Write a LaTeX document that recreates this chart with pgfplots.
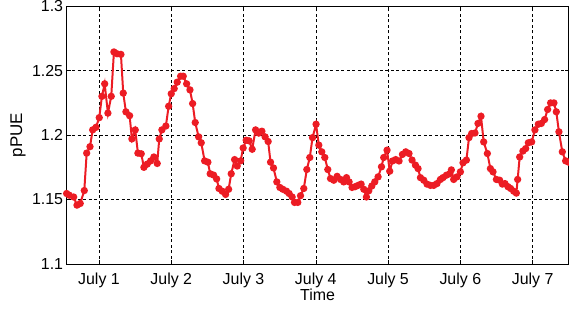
\documentclass[border=0pt]{standalone}
\usepackage{pgfplots}
\pgfplotsset{compat=1.18}
\usepackage{fontspec}
\setmainfont{Liberation Sans}
\definecolor{pred}{RGB}{236,28,36}
\pgfplotstableread{
x y
0.553 1.1547
0.589 1.1534
0.650 1.1520
0.696 1.1457
0.741 1.1470
0.797 1.1570
0.830 1.1860
0.876 1.1910
0.913 1.2040
0.959 1.2060
1.004 1.2135
1.041 1.2300
1.079 1.2397
1.124 1.2170
1.170 1.2300
1.207 1.2644
1.249 1.2630
1.304 1.2625
1.336 1.2325
1.373 1.2180
1.424 1.2150
1.456 1.1970
1.502 1.2040
1.539 1.1860
1.585 1.1855
1.622 1.1750
1.668 1.1775
1.715 1.1800
1.760 1.1830
1.806 1.1780
1.834 1.1970
1.871 1.2040
1.926 1.2070
1.964 1.2223
2.000 1.2320
2.041 1.2360
2.083 1.2410
2.130 1.2456
2.166 1.2456
2.213 1.2397
2.259 1.2350
2.296 1.2244
2.332 1.2097
2.379 1.1986
2.415 1.1940
2.462 1.1800
2.507 1.1790
2.539 1.1700
2.586 1.1690
2.628 1.1660
2.660 1.1586
2.705 1.1565
2.752 1.1540
2.794 1.1580
2.830 1.1700
2.877 1.1810
2.913 1.1760
2.960 1.1800
2.995 1.1900
3.037 1.1960
3.078 1.1955
3.120 1.1890
3.167 1.2040
3.212 1.2015
3.254 1.2030
3.299 1.1986
3.341 1.1950
3.374 1.1790
3.415 1.1745
3.461 1.1637
3.503 1.1594
3.544 1.1580
3.595 1.1565
3.631 1.1547
3.673 1.1520
3.706 1.1478
3.751 1.1478
3.789 1.1530
3.834 1.1586
3.876 1.1733
3.917 1.1826
3.955 1.1980
4.004 1.2084
4.042 1.1922
4.083 1.1870
4.125 1.1826
4.166 1.1733
4.204 1.1663
4.249 1.1650
4.295 1.1680
4.342 1.1656
4.387 1.1637
4.425 1.1670
4.461 1.1637
4.502 1.1594
4.544 1.1600
4.585 1.1610
4.627 1.1620
4.664 1.1580
4.701 1.1520
4.733 1.1568
4.775 1.1605
4.816 1.1637
4.862 1.1676
4.909 1.1754
4.940 1.1826
4.986 1.1883
5.023 1.1720
5.061 1.1799
5.106 1.1810
5.152 1.1799
5.199 1.1850
5.245 1.1870
5.290 1.1857
5.332 1.1806
5.379 1.1767
5.415 1.1740
5.448 1.1670
5.494 1.1650
5.539 1.1620
5.586 1.1610
5.632 1.1610
5.677 1.1624
5.724 1.1656
5.760 1.1670
5.807 1.1689
5.853 1.1700
5.876 1.1730
5.908 1.1656
5.954 1.1676
6.001 1.1715
6.037 1.1785
6.084 1.1806
6.120 1.1980
6.157 1.2012
6.203 1.2016
6.244 1.2090
6.286 1.2146
6.323 1.1947
6.374 1.1857
6.416 1.1740
6.452 1.1715
6.499 1.1656
6.544 1.1650
6.582 1.1620
6.618 1.1624
6.659 1.1600
6.696 1.1586
6.738 1.1565
6.775 1.1550
6.793 1.1656
6.821 1.1830
6.866 1.1876
6.904 1.1895
6.941 1.1940
6.987 1.1947
7.032 1.2040
7.079 1.2084
7.121 1.2090
7.166 1.2120
7.208 1.2198
7.249 1.2249
7.295 1.2249
7.328 1.2180
7.364 1.2025
7.411 1.1870
7.457 1.1800
7.498 1.1790
}\pue
\begin{document}
\begin{tikzpicture}
\path[use as bounding box] (-66.7bp,-47bp) rectangle (502.7bp,264.3bp);
\begin{axis}[
  scale only axis, width=502.3bp, height=258.3bp,
  xmin=0.553, xmax=7.498, ymin=1.1, ymax=1.3,
  xtick={1,2,3,4,5,6,7},
  xticklabels={July 1,July 2,July 3,July 4,July 5,July 6,July 7},
  ytick={1.1,1.15,1.2,1.25,1.3},
  yticklabels={1.1,1.15,1.2,1.25,1.3},
  grid=major,
  grid style={black, dash pattern=on 3bp off 2.5bp, line width=0.55bp},
  axis line style={black, line width=0.9bp},
  tick align=inside, major tick length=4bp,
  tick style={black, line width=0.5bp},
  ticklabel style={font=\fontsize{16}{18}\selectfont},
  xticklabel style={inner sep=0pt, anchor=north, yshift=-8.7bp},
  yticklabel style={inner sep=0pt, anchor=east, xshift=-3.4bp},
  xlabel={Time}, ylabel={pPUE},
  every axis x label/.style={font=\fontsize{16}{18}\selectfont, at={(axis description cs:0.5,-0.0941)}, anchor=north, inner sep=0pt},
  every axis y label/.style={font=\fontsize{17}{18}\selectfont, at={(axis description cs:-0.0812,0.5)}, rotate=90, anchor=south, inner sep=0pt},
  clip=false,
]
\addplot[color=pred, line width=2bp, mark=*, mark size=2.6bp,
  mark options={solid, fill=pred, draw=pred}] table[x=x, y=y] {\pue};
\end{axis}
\end{tikzpicture}
\end{document}
